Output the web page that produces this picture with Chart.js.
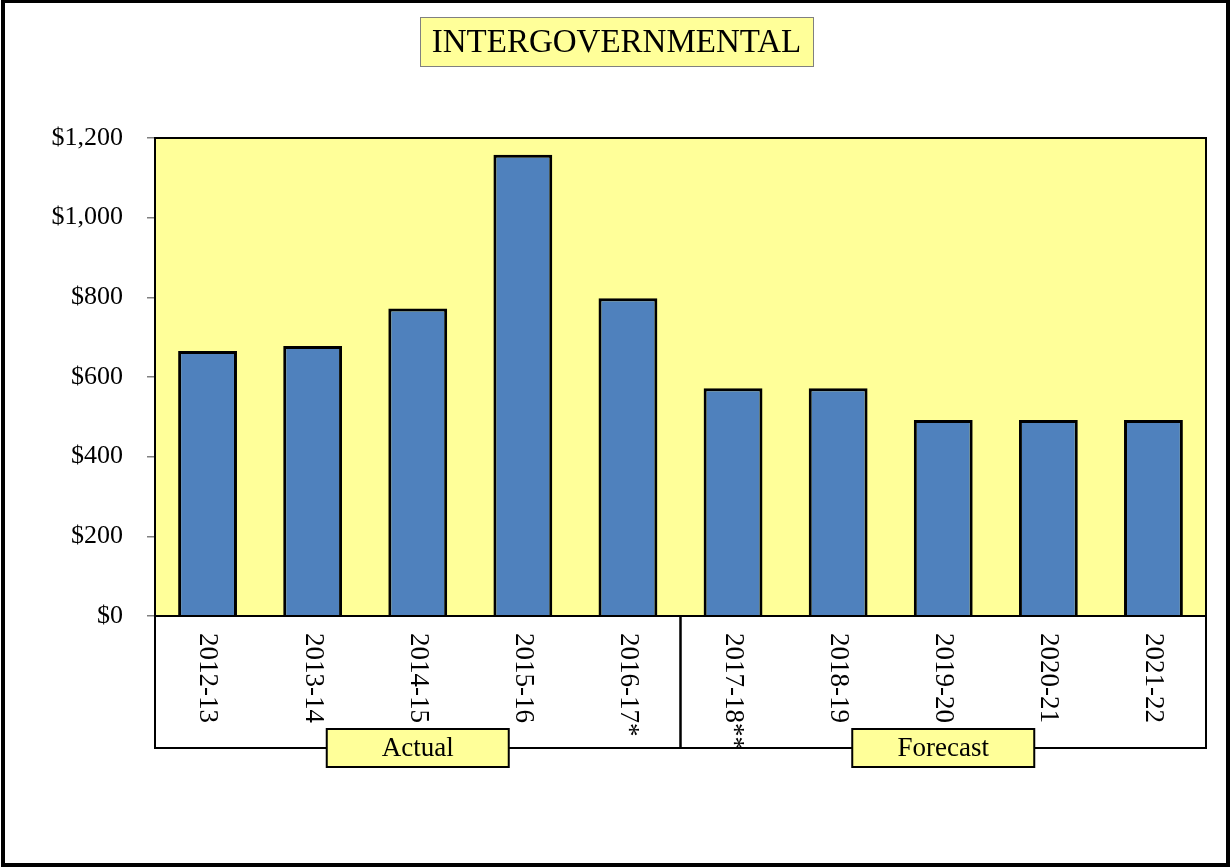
<!DOCTYPE html>
<html>
<head>
<meta charset="utf-8">
<title>Intergovernmental</title>
<script src="https://cdn.jsdelivr.net/npm/chart.js@4/dist/chart.umd.min.js"></script>
<style>
  html, body { margin: 0; padding: 0; background: #fff; }
  canvas { display: block; }
</style>
</head>
<body>
<canvas id="chart" width="1230" height="867"></canvas>
<script>
// Fiscal years shown on the horizontal axis
const years = ['2012-13', '2013-14', '2014-15', '2015-16', '2016-17*',
               '2017-18**', '2018-19', '2019-20', '2020-21', '2021-22'];
// Intergovernmental revenue per year
const revenue = [665, 678, 772, 1158, 798, 572, 572, 492, 492, 492];
// Year groups drawn beneath the axis: label, first index, last index
const groupNames = ['Actual', 'Forecast'];
const groupStart = [0, 5];
const groupEnd = [4, 9];
const chartTitle = 'INTERGOVERNMENTAL';
// Value axis
const yMin = 0, yMax = 1200, yStep = 200;

const SERIF = '"Liberation Serif", "Times New Roman", serif';
const YELLOW = '#FFFF99';

const decorations = {
  id: 'decorations',
  beforeDraw(chart) {
    const ctx = chart.ctx;
    const a = chart.chartArea;
    ctx.save();
    ctx.fillStyle = '#fff';
    ctx.fillRect(0, 0, chart.width, chart.height);
    ctx.fillStyle = YELLOW;
    ctx.fillRect(a.left, a.top, a.right - a.left, a.bottom - a.top);
    ctx.restore();
  },
  afterDraw(chart) {
    const ctx = chart.ctx;
    const a = chart.chartArea;
    const x = chart.scales.x;
    ctx.save();

    // plot area outline
    ctx.strokeStyle = '#000';
    ctx.lineWidth = 2;
    ctx.strokeRect(a.left, a.top, a.right - a.left, a.bottom - a.top);

    // rotated year labels
    ctx.fillStyle = '#000';
    ctx.font = '27px ' + SERIF;
    ctx.textAlign = 'left';
    ctx.textBaseline = 'middle';
    years.forEach((lbl, i) => {
      const px = x.getPixelForValue(i);
      ctx.save();
      ctx.translate(px, a.bottom + 17);
      ctx.rotate(Math.PI / 2);
      ctx.fillText(lbl, 0, 0);
      ctx.restore();
    });

    // group brackets under the axis
    const boxBottom = a.bottom + 132;
    const half = (x.getPixelForValue(1) - x.getPixelForValue(0)) / 2;
    ctx.strokeStyle = '#000';
    ctx.lineWidth = 2;
    groupNames.forEach((name, g) => {
      const l = x.getPixelForValue(groupStart[g]) - half;
      const r = x.getPixelForValue(groupEnd[g]) + half;
      ctx.beginPath();
      ctx.moveTo(l, a.bottom);
      ctx.lineTo(l, boxBottom);
      ctx.lineTo(r, boxBottom);
      ctx.lineTo(r, a.bottom);
      ctx.stroke();
    });
    groupNames.forEach((name, g) => {
      const l = x.getPixelForValue(groupStart[g]) - half;
      const r = x.getPixelForValue(groupEnd[g]) + half;
      const cx = (l + r) / 2;
      const w = 182, h = 38;
      ctx.fillStyle = YELLOW;
      ctx.fillRect(cx - w / 2, boxBottom - 19, w, h);
      ctx.strokeRect(cx - w / 2, boxBottom - 19, w, h);
      ctx.fillStyle = '#000';
      ctx.font = '27px ' + SERIF;
      ctx.textAlign = 'center';
      ctx.textBaseline = 'middle';
      ctx.fillText(name, cx, boxBottom + 1);
    });

    // title box
    ctx.font = '33px ' + SERIF;
    const tw = ctx.measureText(chartTitle).width;
    const tcx = 616.5;
    const bw = Math.max(tw + 18, 393);
    ctx.fillStyle = YELLOW;
    ctx.fillRect(tcx - bw / 2, 17, bw, 49);
    ctx.strokeStyle = '#808080';
    ctx.lineWidth = 1;
    ctx.strokeRect(tcx - bw / 2 + 0.5, 17.5, bw, 49);
    ctx.fillStyle = '#000';
    ctx.textAlign = 'center';
    ctx.textBaseline = 'middle';
    ctx.fillText(chartTitle, tcx, 43);

    // outer frame
    ctx.strokeStyle = '#000';
    ctx.lineWidth = 4;
    ctx.strokeRect(3, 1, 1225, 864);
    ctx.restore();
  }
};

new Chart(document.getElementById('chart'), {
  type: 'bar',
  data: {
    labels: years,
    datasets: [{
      data: revenue,
      backgroundColor: '#4F81BD',
      borderColor: '#000',
      borderWidth: 3,
      categoryPercentage: 1,
      barPercentage: 0.56
    }]
  },
  options: {
    responsive: false,
    animation: false,
    events: [],
    layout: { padding: { top: 138, right: 24, bottom: 119, left: 0 } },
    plugins: {
      legend: { display: false },
      title: { display: false },
      tooltip: { enabled: false }
    },
    scales: {
      x: {
        grid: { display: false },
        border: { display: false },
        ticks: { display: false },
        afterFit(s) { s.height = 132; }
      },
      y: {
        min: yMin,
        max: yMax,
        border: { display: false },
        grid: { drawOnChartArea: false, tickLength: 8, color: '#808080', lineWidth: 1.5 },
        ticks: {
          stepSize: yStep,
          padding: 24,
          color: '#000',
          font: { family: SERIF, size: 26 },
          callback: v => '$' + v.toLocaleString('en-US')
        },
        afterFit(s) { s.width = 155; }
      }
    }
  },
  plugins: [decorations]
});
</script>
</body>
</html>
